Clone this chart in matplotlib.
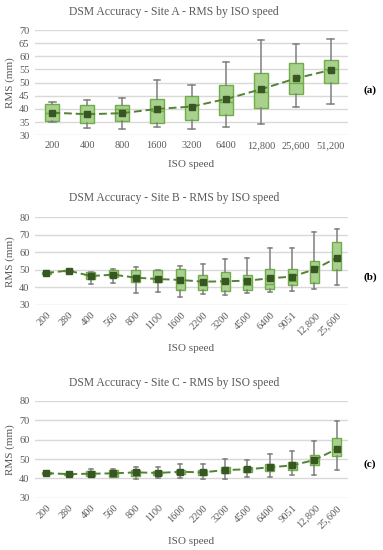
import matplotlib
matplotlib.use("Agg")
import matplotlib.pyplot as plt

plt.rcParams['font.family'] = ['Liberation Serif', 'DejaVu Serif']

# ---------------- data ----------------
iso_a = ['200', '400', '800', '1600', '3200', '6400', '12,800', '25,600', '51,200']
a_whi = [42.5, 43.4, 44.2, 51.0, 49.1, 57.8, 66.2, 64.8, 66.6]
a_q3 = [41.8, 41.4, 41.4, 43.9, 44.9, 49.0, 53.8, 57.3, 58.6]
a_med = [38.5, 38.4, 40.0, 39.4, 41.0, 42.8, 46.5, 49.9, 55.1]
a_q1 = [35.6, 34.6, 35.3, 34.8, 35.8, 37.6, 40.3, 45.8, 50.0]
a_wlo = [35.1, 32.7, 32.3, 33.0, 32.5, 33.0, 34.3, 40.9, 41.8]
a_mean = [38.6, 38.0, 38.4, 40.0, 40.9, 43.8, 47.5, 51.6, 54.8]

iso_bc = ['200', '280', '400', '560', '800', '1100', '1600', '2200', '3200',
          '4500', '6400', '9051', '12,800', '25,600']
b_whi = [48.8, 50.0, 49.0, 50.7, 51.9, 49.8, 52.2, 53.6, 56.0, 56.6, 62.3, 62.3, 71.4, 73.3]
b_q3 = [48.6, 49.8, 48.6, 50.0, 50.0, 49.8, 50.3, 47.3, 48.6, 46.9, 50.3, 50.3, 55.3, 65.7]
b_med = [48.2, 49.5, 46.5, 47.5, 46.0, 45.0, 44.0, 43.5, 43.5, 41.5, 42.0, 43.5, 50.5, 55.7]
b_q1 = [47.8, 49.2, 45.0, 45.8, 43.1, 43.1, 38.4, 38.4, 38.2, 38.6, 39.1, 41.4, 42.5, 50.2]
b_wlo = [47.8, 49.2, 42.2, 42.7, 37.0, 37.6, 34.8, 36.5, 35.9, 37.0, 37.4, 38.0, 38.9, 41.6]
b_mean = [48.3, 49.6, 46.5, 47.3, 45.6, 44.8, 44.3, 43.3, 43.5, 43.9, 45.2, 46.2, 50.3, 57.0]

c_whi = [43.3, 42.8, 45.0, 44.7, 46.0, 45.7, 47.6, 47.4, 49.8, 49.5, 52.8, 54.0, 59.3, 69.7]
c_q3 = [43.3, 42.8, 43.8, 44.1, 44.1, 44.0, 44.5, 44.3, 45.7, 45.8, 47.4, 48.6, 52.1, 60.7]
c_med = [42.7, 42.2, 42.4, 42.5, 43.0, 42.7, 43.2, 43.0, 44.0, 44.5, 45.5, 46.5, 49.0, 55.0]
c_q1 = [42.0, 41.6, 41.3, 40.5, 41.0, 41.5, 42.0, 41.8, 42.6, 43.3, 43.6, 44.3, 46.9, 51.5]
c_wlo = [42.0, 41.6, 41.0, 40.5, 39.5, 40.0, 40.0, 39.8, 39.7, 40.9, 40.5, 41.7, 41.7, 44.3]
c_mean = [42.7, 42.2, 42.4, 42.6, 43.1, 42.8, 43.4, 43.1, 44.3, 44.7, 45.7, 46.7, 49.5, 55.2]

titles = ['DSM Accuracy - Site A - RMS by ISO speed',
          'DSM Accuracy - Site B - RMS by ISO speed',
          'DSM Accuracy - Site C - RMS by ISO speed']
panel_labels = ['(a)', '(b)', '(c)']

# ---------------- style ----------------
BOX_FILL = '#a9d18e'
BOX_EDGE = '#70ad47'
MEAN_C = '#375623'
LINE_C = '#548235'
WHISK_C = '#7f7f7f'
GRID_C = '#d9d9d9'
TXT_C = '#595959'

W, H = 383, 550
fig = plt.figure(figsize=(W / 100, H / 100), dpi=100)


def frac_axes(left, right, top, bottom):
    return fig.add_axes([left / W, 1 - bottom / H, (right - left) / W, (bottom - top) / H])


def draw(ax, cats, whi, q3, med, q1, wlo, mean, ylim, ystep, rot):
    stats = []
    for i in range(len(cats)):
        stats.append(dict(med=med[i], q1=q1[i], q3=q3[i], whislo=wlo[i], whishi=whi[i],
                          mean=mean[i], fliers=[], label=cats[i]))
    pos = list(range(len(cats)))
    ax.bxp(stats, positions=pos, widths=0.4, patch_artist=True, showmeans=False,
           showfliers=False,
           boxprops=dict(facecolor=BOX_FILL, edgecolor=BOX_EDGE, linewidth=1.0),
           medianprops=dict(color=BOX_EDGE, linewidth=1.0),
           whiskerprops=dict(color=WHISK_C, linewidth=1.1),
           capprops=dict(color=WHISK_C, linewidth=1.1),
           capwidths=0.18, zorder=3)
    ax.plot(pos, mean, color=LINE_C, linestyle=(0, (4, 2)), linewidth=1.4, zorder=4)
    ax.plot(pos, mean, linestyle='none', marker='s', markersize=4.5,
            color=MEAN_C, markeredgecolor=MEAN_C, zorder=5)
    ax.set_xlim(-0.5, len(cats) - 0.5)
    ax.set_ylim(*ylim)
    ax.set_yticks(range(ylim[0], ylim[1] + 1, ystep))
    ax.yaxis.grid(True, color=GRID_C, linewidth=1.0, zorder=0)
    ax.set_axisbelow(True)
    for s in ax.spines.values():
        s.set_visible(False)
    ax.tick_params(axis='both', length=0, labelsize=7.5, colors=TXT_C, pad=4)
    ax.set_xticks(pos)
    if rot:
        ax.set_xticklabels(cats, rotation=45, ha='right', rotation_mode='anchor')
    else:
        ax.set_xticklabels(cats)
    ax.set_ylabel('RMS (mm)', fontsize=8, color=TXT_C, labelpad=3)
    ax.set_xlabel('ISO speed', fontsize=8, color=TXT_C, labelpad=7 if not rot else 5)


axA = frac_axes(35, 348, 30, 135.3)
draw(axA, iso_a, a_whi, a_q3, a_med, a_q1, a_wlo, a_mean, (30, 70), 5, False)
axB = frac_axes(35, 348, 217.3, 305)
draw(axB, iso_bc, b_whi, b_q3, b_med, b_q1, b_wlo, b_mean, (30, 80), 10, True)
axC = frac_axes(35, 348, 401, 497.7)
draw(axC, iso_bc, c_whi, c_q3, c_med, c_q1, c_wlo, c_mean, (30, 80), 10, True)

for ty, t in zip([12, 198, 383], titles):
    fig.text(174 / W, 1 - ty / H, t, ha='center', va='center', fontsize=8.4, color=TXT_C)
for ly, l in zip([90, 277, 464], panel_labels):
    fig.text(370 / W, 1 - ly / H, l, ha='center', va='center', fontsize=8, color='black',
             fontweight='bold')

fig.savefig('out.png', dpi=100, facecolor='white')
